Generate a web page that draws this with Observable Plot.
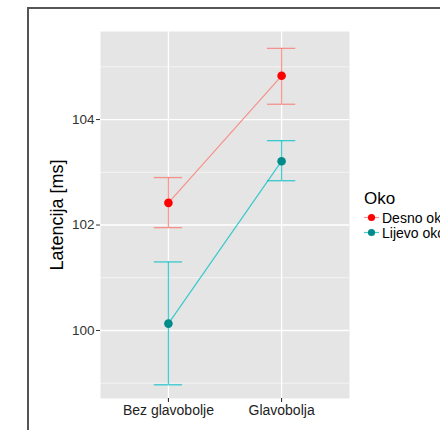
<!DOCTYPE html>
<html>
<head>
<meta charset="utf-8">
<script src="https://cdn.jsdelivr.net/npm/d3@7"></script>
<script src="https://cdn.jsdelivr.net/npm/@observablehq/plot@0.6"></script>
<style>
  html, body { margin: 0; padding: 0; background: #fff; }
  body { width: 440px; height: 430px; overflow: hidden; position: relative; font-family: "Liberation Sans", Arial, sans-serif; }
  #border { position: absolute; left: 27px; top: 7px; width: 500px; height: 500px; border: 2px solid #555; box-sizing: border-box; }
  #chart { position: absolute; left: 0; top: 0; }
  #legend { position: absolute; left: 364px; top: 189px; color: #000; white-space: nowrap; }
  #legend .title { font-size: 17px; line-height: 20px; margin-bottom: 1px; }
  #legend .item { display: flex; align-items: center; height: 15px; font-size: 14px; }
  #legend svg { margin-right: 3px; }
</style>
</head>
<body>
<div id="border"></div>
<div id="chart"></div>
<div id="legend"></div>
<script>
const categories = ["Bez glavobolje", "Glavobolja"];
const seriesNames = ["Desno oko", "Lijevo oko"];
const desnoMean = [102.42, 104.83];
const desnoLow  = [101.95, 104.29];
const desnoHigh = [102.90, 105.35];
const lijevoMean = [100.13, 103.21];
const lijevoLow  = [98.97, 102.84];
const lijevoHigh = [101.30, 103.60];
const yTicks = [100, 102, 104];
const yMinor = [99, 101, 103, 105];
const lineColors = ["#F8766D", "#00BFC4"];
const dotColors = ["#FF0000", "#008B8B"];

const seriesData = [
  {name: seriesNames[0], mean: desnoMean, low: desnoLow, high: desnoHigh},
  {name: seriesNames[1], mean: lijevoMean, low: lijevoLow, high: lijevoHigh}
].map(s => s.mean.map((m, i) => ({series: s.name, xi: i + 1, mean: m, low: s.low[i], high: s.high[i]})));

const marks = [
  Plot.frame({fill: "#E5E5E5", stroke: null}),
  Plot.ruleY(yMinor, {stroke: "#fff", strokeWidth: 0.6}),
  Plot.ruleY(yTicks, {stroke: "#fff", strokeWidth: 1.3}),
  Plot.ruleX([1, 2], {stroke: "#fff", strokeWidth: 1.3})
];
seriesData.forEach((rows, k) => {
  marks.push(
    Plot.line(rows, {x: "xi", y: "mean", stroke: lineColors[k], strokeOpacity: 0.75, strokeWidth: 1.2}),
    Plot.ruleX(rows, {x: "xi", y1: "low", y2: "high", stroke: lineColors[k], strokeOpacity: 0.75, strokeWidth: 1.3}),
    Plot.ruleY(rows, {y: "low", x1: d => d.xi - 0.125, x2: d => d.xi + 0.125, stroke: lineColors[k], strokeOpacity: 0.75, strokeWidth: 1.3}),
    Plot.ruleY(rows, {y: "high", x1: d => d.xi - 0.125, x2: d => d.xi + 0.125, stroke: lineColors[k], strokeOpacity: 0.75, strokeWidth: 1.3}),
    Plot.dot(rows, {x: "xi", y: "mean", r: 4.3, fill: dotColors[k], stroke: null})
  );
});
marks.push(
  Plot.axisY({ticks: yTicks, tickFormat: d => String(d), tickSize: 4, tickPadding: 2, label: null, fontSize: 13.5, stroke: "#333", color: "#333"}),
  Plot.axisX({ticks: [1, 2], tickFormat: i => categories[i - 1], tickSize: 4, tickPadding: 3, label: null, fontSize: 14, color: "#222"}),
  Plot.text(["Latencija [ms]"], {frameAnchor: "left", textAnchor: "middle", lineAnchor: "middle", dx: -43, rotate: -90, fontSize: 18, fill: "#000"})
);

const chart = Plot.plot({
  width: 440,
  height: 430,
  marginLeft: 100,
  marginRight: 91,
  marginTop: 31,
  marginBottom: 32,
  style: {fontFamily: "Liberation Sans, Arial, sans-serif", background: "transparent", overflow: "visible"},
  x: {type: "linear", domain: [0.4, 2.6]},
  y: {domain: [98.71, 105.67]},
  marks
});
document.getElementById("chart").appendChild(chart);

const legend = document.getElementById("legend");
const t = document.createElement("div");
t.className = "title";
t.textContent = "Oko";
legend.appendChild(t);
seriesNames.forEach((name, k) => {
  const item = document.createElement("div");
  item.className = "item";
  item.innerHTML = `<svg width="15" height="15"><line x1="0" x2="15" y1="7.5" y2="7.5" stroke="${lineColors[k]}" stroke-opacity="0.75" stroke-width="1.2"/><circle cx="7.5" cy="7.5" r="3.6" fill="${dotColors[k]}"/></svg><span>${name}</span>`;
  legend.appendChild(item);
});
</script>
</body>
</html>
